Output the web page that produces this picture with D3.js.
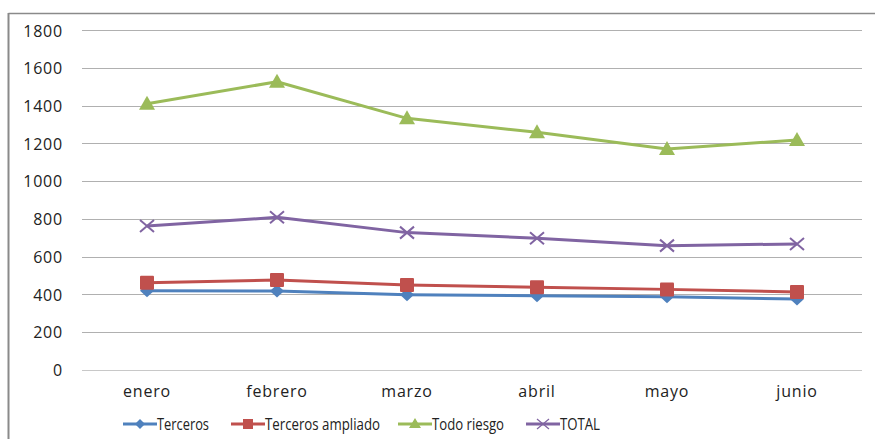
<!DOCTYPE html>
<html><head><meta charset="utf-8">
<script src="https://cdn.jsdelivr.net/npm/d3@7"></script>
<style>body{margin:0;background:#fff}svg{display:block}text{fill:#222}</style>
</head><body><svg id="c" width="875" height="439"></svg>
<script>
const categories = ["enero","febrero","marzo","abril","mayo","junio"];
const terceros = [419, 417, 398, 392, 387, 375];
const tercerosAmpliado = [461, 476, 449, 437, 426, 412];
const todoRiesgo = [1411, 1527, 1333, 1259, 1170, 1218];
const total = [762, 808, 727, 697, 658, 667];
const seriesNames = ["Terceros","Terceros ampliado","Todo riesgo","TOTAL"];
const yTicks = [0,200,400,600,800,1000,1200,1400,1600,1800];

const series = [
  {name: seriesNames[0], values: terceros, color: "#4F81BD", marker: "diamond"},
  {name: seriesNames[1], values: tercerosAmpliado, color: "#C0504D", marker: "square"},
  {name: seriesNames[2], values: todoRiesgo, color: "#9BBB59", marker: "triangle"},
  {name: seriesNames[3], values: total, color: "#8064A2", marker: "x"}
];

const svg = d3.select("#c");
// frame
svg.append("line").attr("x1",8.5).attr("x2",875).attr("y1",13.5).attr("y2",13.5).attr("stroke","#8a8a8a").attr("stroke-width",1.5);
svg.append("line").attr("x1",8.5).attr("x2",8.5).attr("y1",13).attr("y2",439).attr("stroke","#8a8a8a").attr("stroke-width",2);

const x = d3.scaleBand().domain(categories).range([82, 862]);
const y = d3.scaleLinear().domain([0,1800]).range([369.7, 30.3]);

// gridlines
svg.append("g").selectAll("line").data(yTicks).join("line")
  .attr("x1",82).attr("x2",862).attr("y1",d=>Math.round(y(d))+0.5).attr("y2",d=>Math.round(y(d))+0.5)
  .attr("stroke",d=>d===0?"#c8c8c8":"#b0b0b0").attr("stroke-width",1.2);

const axisFont = '"Open Sans", sans-serif';
// y axis labels
const yAxis = d3.axisLeft(y).tickValues(yTicks).tickSize(0).tickPadding(0).tickFormat(d3.format("d"));
const gy = svg.append("g").attr("transform","translate(63,0)").call(yAxis);
gy.select(".domain").remove();
gy.selectAll("text").style("font-size","16px").style("font-family",axisFont).style("letter-spacing","0.8px").attr("fill","#262626").attr("dy","0.36em");

// x axis labels
const xAxis = d3.axisBottom(x).tickSize(0).tickPadding(0);
const gx = svg.append("g").attr("transform","translate(0,391)").call(xAxis);
gx.select(".domain").remove();
gx.selectAll("text").style("font-size","16px").style("font-family",axisFont).style("letter-spacing","0.8px").attr("fill","#262626").attr("dy","0.36em");

const cx = c => x(c) + x.bandwidth()/2;

function drawMarker(g, type, color, px, py) {
  if (type === "diamond") {
    g.append("path").attr("d", `M${px},${py-6.5}L${px+7},${py}L${px},${py+6.5}L${px-7},${py}Z`).attr("fill",color);
  } else if (type === "square") {
    g.append("rect").attr("x",px-7).attr("y",py-7).attr("width",14).attr("height",14).attr("fill",color).attr("rx",1);
  } else if (type === "triangle") {
    g.append("path").attr("d", `M${px},${py-8}L${px+8},${py+6}L${px-8},${py+6}Z`).attr("fill",color);
  } else {
    g.append("path").attr("d", `M${px-7},${py-6}L${px+7},${py+6}M${px-7},${py+6}L${px+7},${py-6}`).attr("stroke",color).attr("stroke-width",2).attr("fill","none");
  }
}

const line = d3.line().x((d,i)=>cx(categories[i])).y(d=>y(d));
series.forEach(s => {
  const g = svg.append("g");
  g.append("path").attr("d", line(s.values)).attr("fill","none").attr("stroke",s.color).attr("stroke-width",3).attr("stroke-linejoin","round");
  s.values.forEach((v,i)=>drawMarker(g, s.marker, s.color, cx(categories[i]), y(v)));
});

// legend
const legendX = [123, 231, 398, 526];
const legendW = [52, 115, 72, 40];
const legend = svg.append("g");
series.forEach((s,i) => {
  const lx = legendX[i], ly = 424;
  legend.append("line").attr("x1",lx).attr("x2",lx+34).attr("y1",ly).attr("y2",ly).attr("stroke",s.color).attr("stroke-width",3);
  const g = legend.append("g");
  const mx = lx+17;
  if (s.marker === "diamond") g.append("path").attr("d", `M${mx},${ly-5}L${mx+5},${ly}L${mx},${ly+5}L${mx-5},${ly}Z`).attr("fill",s.color);
  else if (s.marker === "square") g.append("rect").attr("x",mx-5).attr("y",ly-5).attr("width",10).attr("height",10).attr("fill",s.color);
  else if (s.marker === "triangle") g.append("path").attr("d",`M${mx},${ly-6}L${mx+6},${ly+4}L${mx-6},${ly+4}Z`).attr("fill",s.color);
  else g.append("path").attr("d",`M${mx-6},${ly-5}L${mx+6},${ly+5}M${mx-6},${ly+5}L${mx+6},${ly-5}`).attr("stroke",s.color).attr("stroke-width",1.2);
  legend.append("text").attr("x",lx+34).attr("y",ly).attr("dy","0.36em")
    .style("font-size","16px").style("font-family",'"Open Sans", sans-serif')
    .attr("textLength", legendW[i]).attr("lengthAdjust","spacingAndGlyphs").text(s.name);
});
</script></body></html>
